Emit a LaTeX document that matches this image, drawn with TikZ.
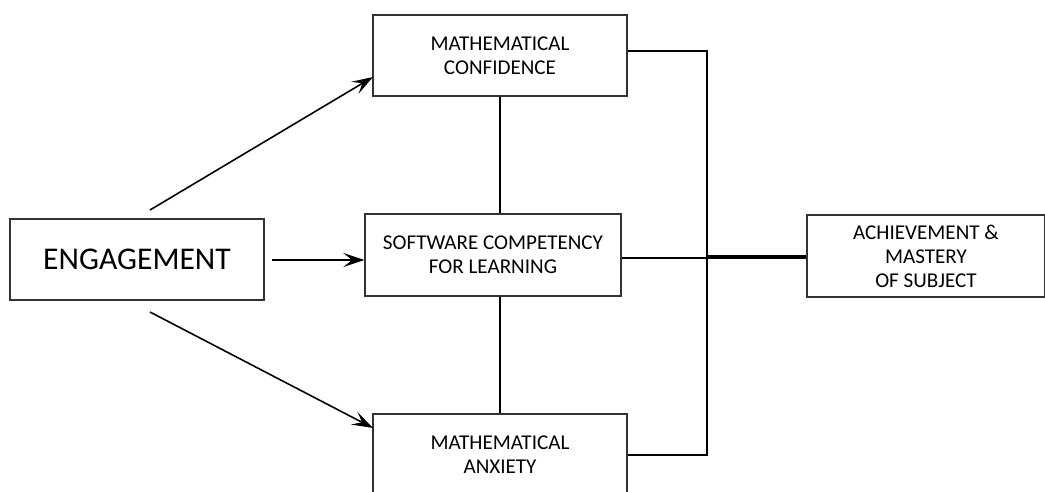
\documentclass[tikz,border=0pt]{standalone}
\usepackage{fontspec}
\setmainfont{Carlito}
\usepackage{tikz}
\usetikzlibrary{positioning, arrows, arrows.meta, shapes}

\begin{document}
\begin{tikzpicture}[x=0.02cm,y=-0.02cm,
  box/.style={draw=black!80,line width=0.8pt,rectangle,align=center,
    font=\fontsize{12}{13.6}\selectfont},
  link/.style={line width=0.8pt},
  arr/.style={line width=0.9pt,-{Stealth[length=12pt,width=8pt,inset=5pt]}}]
\clip (0,0) rectangle (1045,491);
\node[box,minimum width=5.08cm, minimum height=1.62cm,font=\fontsize{18}{20}\selectfont] (engage) at (137,259.5) {ENGAGEMENT};
\node[box,minimum width=5.08cm, minimum height=1.62cm] (conf) at (500,55.5) {MATHEMATICAL\\CONFIDENCE};
\node[box,minimum width=5.12cm, minimum height=1.64cm] (soft) at (493,255) {SOFTWARE COMPETENCY\\FOR LEARNING};
\node[box,minimum width=5.08cm, minimum height=1.64cm] (anx) at (500,455) {MATHEMATICAL\\ANXIETY};
\node[box,minimum width=4.76cm, minimum height=1.64cm] (ach) at (926,256) {ACHIEVEMENT \&\\MASTERY\\OF SUBJECT};
\coordinate (up) at (150,210);
\coordinate (mid) at (272,260);
\coordinate (down) at (150,312);
\coordinate (jn) at (707,257);

\draw[arr] (up) -- (373,77);
\draw[arr] (mid) -- (soft.west |- mid);
\draw[arr] (down) -- (373,428);
\draw[link] (conf.south) -- (conf.south |- soft.north);
\draw[link] (anx.north |- soft.south) -- (anx.north);
\draw[link] ([yshift=0.09cm]conf.east) -| (jn) |- (anx.east);
\draw[link] ([yshift=-0.06cm]soft.east) -- ([yshift=-0.06cm]soft.east -| jn);
\draw[line width=2.8pt] (jn) -- (ach.west |- jn);
\end{tikzpicture}
\end{document}
